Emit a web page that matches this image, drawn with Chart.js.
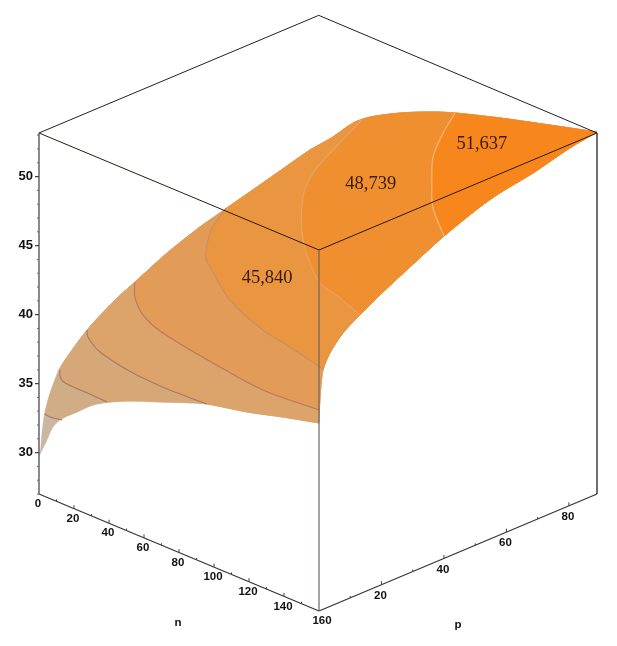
<!DOCTYPE html>
<html>
<head>
<meta charset="utf-8">
<style>
  html, body { margin: 0; padding: 0; background: #fff; }
  canvas { display: block; filter: blur(.4px); }
</style>
</head>
<body>
<canvas id="myChart" width="617" height="646"></canvas>
<script src="https://cdn.jsdelivr.net/npm/chart.js@4"></script>
<script>
// surface rim, walking round the sheet
const rimN0P = [0, .5, .9, 1.6, 2.9, 4.5, 6.4, 8.3, 15.4, 24.3, 30.7, 41, 51.5, 60.2, 73, 86.7, 89];
const rimN0Z = [29.75, 30.14, 31.19, 32.43, 33.54, 34.47, 35.38, 35.92, 37.42, 38.74, 39.43, 40.56, 41.44, 41.99, 42.8, 43.67, 43.74];
const rimPmaxN = [9.1, 20.6, 30.3, 47.4, 66.3, 78.9, 104.6, 133.1, 160];
const rimPmaxZ = [44.88, 46.5, 47.44, 48.64, 49.72, 50.31, 51.31, 52.31, 53.23];
const rimNmaxP = [80.3, 68.5, 57.9, 51.5, 40, 29.1, 20.5, 13.1, 7.7, 3.5, 1.3, .6, .2, 0];
const rimNmaxZ = [52.9, 52.21, 51.78, 51.37, 50.36, 49.15, 48.16, 47.2, 46.41, 45.36, 44.34, 43.17, 41.91, 40.62];
const rimP0N = [139.4, 118.9, 96, 70.9, 52, 40.6, 30.9, 21.7, 13.7, 8, 4.6, 1.5];
const rimP0Z = [39.96, 39.24, 38.61, 37.42, 36.49, 35.82, 35.09, 34.09, 33.23, 32.28, 31.16, 30.2];

// contour lines
const c1N = [0, 5.2, 13.1];
const c1P = [1.8, .6, 0];
const c1Z = [32.62, 32.8, 33.06];
const c2N = [0, 5.3, 11.3, 22.8, 38.9];
const c2P = [6.7, 3.8, 2, 1.3, 0];
const c2Z = [35.35, 35.4, 35.45, 35.55, 35.72];
const c3N = [0, 5.8, 20.4, 48, 70.1, 82.8, 96];
const c3P = [15.4, 12.4, 8.1, 3.2, 1, .4, 0];
const c3Z = [37.42, 37.5, 37.6, 38, 38.3, 38.45, 38.61];
const c4N = [0, 10.8, 27.3, 48.1, 86.6, 123.1, 160];
const c4P = [30.7, 24.65, 18, 12.75, 7.17, 2.7, .1];
const c4Z = [39.43, 39.5, 39.7, 40, 40.4, 40.8, 41.56];
const c5N = [0, 9.9, 20.5, 30, 40.8, 69.3, 102.9, 126, 160];
const c5P = [59.9, 49.83, 42.28, 36.6, 32.5, 22.3, 14, 9.7, 1.3];
const c5Z = [42.01, 42.05, 42.1, 42.2, 42.3, 42.6, 43, 43.4, 44.41];
const c6N = [25.7, 38, 47.9, 61.4, 83.6, 102.1, 124.9, 139.3, 160];
const c6P = [89, 72.8, 60.9, 50.1, 37.3, 28.6, 20, 17.4, 13.1];
const c6Z = [46.99, 47, 47, 47, 47, 47, 47, 47.1, 47.2];
const c7N = [78.9, 89, 102.5, 119.9, 136.5, 160];
const c7P = [89, 79.5, 68.7, 58.6, 49.6, 40];
const c7Z = [50.31, 50.3, 50.3, 50.3, 50.3, 50.36];

const contours = [[c1N, c1P, c1Z], [c2N, c2P, c2Z], [c3N, c3P, c3Z], [c4N, c4P, c4Z], [c5N, c5P, c5Z], [c6N, c6P, c6Z], [c7N, c7P, c7Z]];
const bandColors = ["#cbb6a2", "#d0ac87", "#d6a878", "#dca36a", "#e39c58", "#ea9641", "#f08f2f", "#f7871c"];
const lineColors = ["#a07a68", "#a37862", "#a87a64", "#b47a62", "#c68e66", "#e6a468", "#f6bc80"];

const nTicks = [0, 20, 40, 60, 80, 100, 120, 140, 160];
const nMinor = [10, 30, 50, 70, 90, 110, 130, 150];
const pTicks = [20, 40, 60, 80];
const pMinor = [10, 30, 50, 70];
const zTicks = [30, 35, 40, 45, 50];
const zMinor = [27, 28, 29, 31, 32, 33, 34, 36, 37, 38, 39, 41, 42, 43, 44, 46, 47, 48, 49, 51, 52, 53];
const levelLabels = ["45,840", "48,739", "51,637"];
const levelLabelN = [87.5, 81.4, 114.2];
const levelLabelP = [24, 60.6, 77.8];
const levelLabelZ = [45, 48, 51];

const nMax = 160, pMax = 89, zMin = 27, zMax = 53.16;

// the box sits oblique on the page, this is the camera
function px(n, p) { return 39 + n * 1.75 + p * 278 / pMax; }
function py(n, p, z) { return 494 + n * 117 / nMax - p * 117 / pMax - (z - zMin) * 13.8; }
function pt(n, p, z) { return { x: px(n, p), y: py(n, p, z) }; }

const rimUp = [];
rimN0P.forEach((p, i) => rimUp.push({ n: 0, p: p, z: rimN0Z[i] }));
rimPmaxN.forEach((n, i) => rimUp.push({ n: n, p: pMax, z: rimPmaxZ[i] }));
const rimDown = [];
rimNmaxP.forEach((p, i) => rimDown.push({ n: nMax, p: p, z: rimNmaxZ[i] }));
rimP0N.forEach((n, i) => rimDown.push({ n: n, p: 0, z: rimP0Z[i] }));

function contourPts(c) {
    return c[0].map((n, i) => pt(n, c[1][i], c[2][i]));
}

// a doubled point keeps the spline from rounding off a corner
function rimPts(list) {
    const out = [];
    list.forEach(r => {
        const a = pt(r.n, r.p, r.z);
        out.push(a);
        if (r.n === nMax && (r.p === 0 || r.p === pMax)) out.push(a);
    });
    return out;
}

// region above a contour: rim points higher than its two ends, closed by the contour itself
function bandPts(c) {
    const line = contourPts(c).reverse();
    const zStart = c[2][0], zEnd = c[2][c[2].length - 1];
    const rim = rimPts(rimUp.filter(r => r.z > zStart)).concat(rimPts(rimDown.filter(r => r.z > zEnd)));
    const first = line[0], last = line[line.length - 1];
    return rim.concat([first], line, [last], [rim[0]]);
}

const datasets = [];
const wholeRim = rimPts(rimUp.concat(rimDown));
wholeRim.unshift(wholeRim[0]);
wholeRim.push(wholeRim[0], wholeRim[0]);
function addLine(data, color, width, order, fill, tension) {
    datasets.push({
        data: data, showLine: true, pointRadius: 0, tension: tension || 0, spanGaps: false,
        borderColor: color, borderWidth: width, order: order,
        backgroundColor: fill || color, fill: fill ? "shape" : false,
        borderJoinStyle: "round"
    });
}

addLine(wholeRim, bandColors[0], .5, 100, bandColors[0], .3);
contours.forEach((c, i) => {
    addLine(bandPts(c), bandColors[i + 1], .5, 99 - i, bandColors[i + 1], .3);
});
contours.forEach((c, i) => {
    addLine(contourPts(c), lineColors[i], 1.1, 50, null, .3);
});

// box edges
const topZ = zMax;
const backTop = pt(1, pMax, zMax + .1); // back corner sits a hair right of the parallelogram in the picture
addLine([pt(0, 0, zMin), pt(0, 0, topZ)], "#555a60", 1.4, 20);
addLine([pt(nMax, 0, zMin), pt(nMax, 0, topZ)], "#6d6360", 1.2, 20);
addLine([pt(nMax, pMax, zMin), pt(nMax, pMax, topZ)], "#101014", 1.2, 20);
addLine([pt(0, 0, zMin), pt(nMax, 0, zMin)], "#333", 1.2, 20);
addLine([pt(nMax, 0, zMin), pt(nMax, pMax, zMin)], "#333", 1.2, 20);
addLine([pt(0, 0, topZ), pt(nMax, 0, topZ), pt(nMax, pMax, topZ)], "#2a1a10", 1, 20);
addLine([pt(0, 0, topZ), backTop, pt(nMax, pMax, topZ)], "#1c2028", 1, 20);

// ticks, one path per group with gaps in between
function tickPath(list, fn, len) {
    const out = [];
    list.forEach(v => {
        const a = fn(v);
        out.push(a, { x: a.x + len[0], y: a.y + len[1] }, { x: null, y: null });
    });
    return out;
}
addLine(tickPath(zTicks, z => pt(0, 0, z), [-4, 0]), "#444", 1.2, 10);
addLine(tickPath(zMinor, z => pt(0, 0, z), [-2, 0]), "#666", 1, 10);
addLine(tickPath(nTicks.slice(1, -1), n => pt(n, 0, zMin), [0, -3.5]), "#444", 1, 10);
addLine(tickPath(nMinor, n => pt(n, 0, zMin), [0, -2]), "#444", 1, 10);
addLine(tickPath(pTicks, p => pt(nMax, p, zMin), [0, -3.5]), "#444", 1, 10);
addLine(tickPath(pMinor, p => pt(nMax, p, zMin), [0, -2]), "#444", 1, 10);

const textPlugin = {
    id: "boxText",
    afterDatasetsDraw(chart) {
        const ctx = chart.ctx, sx = chart.scales.x, sy = chart.scales.y;
        function put(t, x, y, font, color, align) {
            ctx.font = font;
            ctx.fillStyle = color;
            ctx.textAlign = align || "center";
            ctx.textBaseline = "middle";
            ctx.fillText(t, sx.getPixelForValue(x), sy.getPixelForValue(y));
        }
        ctx.save();
        const axisFont = "bold 11.5px 'Liberation Sans'";
        zTicks.forEach(z => {
            const a = pt(0, 0, z);
            put(String(z), a.x - 6, a.y, "bold 13px 'Liberation Sans'", "#111", "right");
        });
        nTicks.forEach(n => {
            const a = pt(n, 0, zMin);
            put(String(n), a.x + (n === nMax ? 3 : -1), a.y + 10, axisFont, "#111");
        });
        pTicks.forEach(p => {
            const a = pt(nMax, p, zMin);
            put(String(p), a.x - 1, a.y + 11, axisFont, "#111");
        });
        put("n", 178, 623, axisFont, "#111");
        put("p", 458, 625, axisFont, "#111");
        levelLabels.forEach((t, i) => {
            const a = pt(levelLabelN[i], levelLabelP[i], levelLabelZ[i]);
            put(t, a.x, a.y, "18.5px 'Liberation Serif'", "#3a1c08");
        });
        ctx.restore();
    }
};

new Chart(document.getElementById("myChart"), {
    type: "scatter",
    data: { datasets: datasets },
    options: {
        responsive: false,
        animation: false,
        events: [],
        layout: { padding: 0 },
        plugins: { legend: { display: false }, tooltip: { enabled: false } },
        scales: {
            x: { type: "linear", min: 0, max: 617, display: false },
            y: { type: "linear", min: 0, max: 646, reverse: true, display: false }
        }
    },
    plugins: [textPlugin]
});
</script>
</body>
</html>
